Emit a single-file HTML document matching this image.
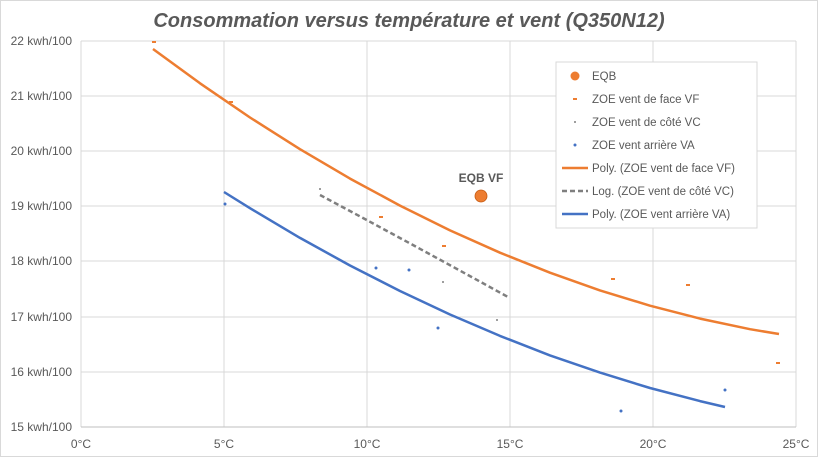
<!DOCTYPE html><html><head><meta charset="utf-8"><style>body{margin:0;background:#fff}svg{display:block;font-family:"Liberation Sans",sans-serif}</style></head><body>
<svg width="818" height="457" viewBox="0 0 818 457">
<rect x="0.5" y="0.5" width="817" height="456" fill="#fff" stroke="#d9d9d9"/>
<text x="409" y="27" text-anchor="middle" font-size="20" font-style="italic" font-weight="bold" fill="#595959">Consommation versus température et vent (Q350N12)</text>
<g stroke="#d9d9d9" stroke-width="1">
<line x1="81" y1="41" x2="796" y2="41"/><line x1="81" y1="96" x2="796" y2="96"/><line x1="81" y1="151" x2="796" y2="151"/><line x1="81" y1="206" x2="796" y2="206"/><line x1="81" y1="261" x2="796" y2="261"/><line x1="81" y1="317" x2="796" y2="317"/><line x1="81" y1="372" x2="796" y2="372"/>
<line x1="224" y1="41" x2="224" y2="427"/><line x1="367" y1="41" x2="367" y2="427"/><line x1="510" y1="41" x2="510" y2="427"/><line x1="653" y1="41" x2="653" y2="427"/><line x1="796" y1="41" x2="796" y2="427"/>
<line x1="81" y1="41" x2="81" y2="427"/>
</g>
<line x1="81" y1="427" x2="796" y2="427" stroke="#bfbfbf"/>
<g font-size="12" fill="#595959" text-anchor="end">
<text x="72" y="45">22 kwh/100</text><text x="72" y="100">21 kwh/100</text><text x="72" y="155">20 kwh/100</text><text x="72" y="210">19 kwh/100</text><text x="72" y="265">18 kwh/100</text><text x="72" y="321">17 kwh/100</text><text x="72" y="376">16 kwh/100</text><text x="72" y="431">15 kwh/100</text>
</g>
<g font-size="12" fill="#595959" text-anchor="middle">
<text x="81" y="448">0°C</text><text x="224" y="448">5°C</text><text x="367" y="448">10°C</text><text x="510" y="448">15°C</text><text x="653" y="448">20°C</text><text x="796" y="448">25°C</text>
</g>
<polyline points="153,49 200,83.3 250,117.5 300,149.2 350,178.6 400,205.6 450,230.4 500,252.7 550,272.7 600,290.4 650,305.7 700,318.6 750,329.2 779,334" fill="none" stroke="#ed7d31" stroke-width="2.5" stroke-linejoin="round"/>
<polyline points="224,192 250,208.2 300,237.9 350,265.5 400,291 450,314.5 500,335.9 550,355.4 600,372.6 650,388 700,401.1 725,407" fill="none" stroke="#4472c4" stroke-width="2.5" stroke-linejoin="round"/>
<path d="M320,195 Q410,243 508,297" fill="none" stroke="#7f7f7f" stroke-width="2.5" stroke-dasharray="5,3"/>
<g fill="#ed7d31">
<rect x="152" y="41" width="4" height="2"/><rect x="229" y="101" width="4" height="2"/><rect x="379" y="216" width="4" height="2"/><rect x="442" y="245" width="4" height="2"/><rect x="611" y="278" width="4" height="2"/><rect x="686" y="284" width="4" height="2"/><rect x="776" y="362" width="4" height="2"/>
</g>
<g fill="#7f7f7f"><circle cx="320" cy="189" r="1"/><circle cx="443" cy="282" r="1"/><circle cx="497" cy="320" r="1"/></g>
<g fill="#4472c4"><circle cx="225" cy="204" r="1.5"/><circle cx="376" cy="268" r="1.5"/><circle cx="409" cy="270" r="1.5"/><circle cx="438" cy="328" r="1.5"/><circle cx="621" cy="411" r="1.5"/><circle cx="725" cy="390" r="1.5"/></g>
<circle cx="481" cy="196" r="6" fill="#ed7d31" stroke="#c55a11" stroke-width="0.8"/>
<text x="481" y="182" text-anchor="middle" font-size="12" font-weight="bold" fill="#595959">EQB VF</text>
<rect x="556" y="62" width="201" height="166" fill="#fff" stroke="#d9d9d9"/>
<g font-size="11.5" fill="#595959">
<circle cx="575" cy="76" r="4.5" fill="#ed7d31"/><text x="592" y="80">EQB</text>
<rect x="573" y="98" width="4" height="2" fill="#ed7d31"/><text x="592" y="103">ZOE vent de face VF</text>
<circle cx="575" cy="122" r="1" fill="#7f7f7f"/><text x="592" y="126">ZOE vent de côté VC</text>
<circle cx="575" cy="145" r="1.5" fill="#4472c4"/><text x="592" y="149">ZOE vent arrière VA</text>
<line x1="562" y1="168" x2="588" y2="168" stroke="#ed7d31" stroke-width="2.5"/><text x="592" y="172">Poly. (ZOE vent de face VF)</text>
<line x1="562" y1="191" x2="588" y2="191" stroke="#7f7f7f" stroke-width="2.5" stroke-dasharray="5,3"/><text x="592" y="195">Log. (ZOE vent de côté VC)</text>
<line x1="562" y1="214" x2="588" y2="214" stroke="#4472c4" stroke-width="2.5"/><text x="592" y="218">Poly. (ZOE vent arrière VA)</text>
</g>
</svg>
</body></html>
